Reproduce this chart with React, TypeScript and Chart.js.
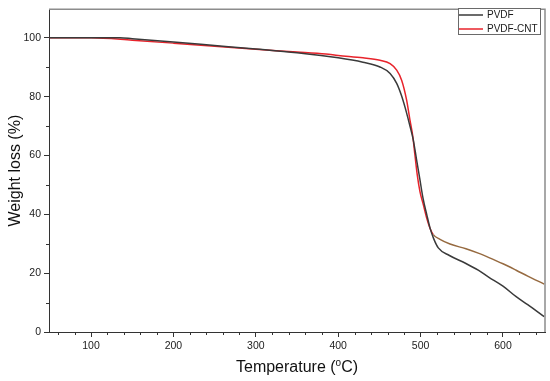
import React, { useEffect, useRef } from "react";
import { Chart, registerables } from "chart.js";
Chart.register(...registerables);

// ---- data ----
const seriesNames = ["PVDF", "PVDF-CNT"];
const pvdfTemp = [50, 100, 135, 150, 200, 250, 300, 350, 400, 430, 450.7, 463, 471, 477, 483, 487, 491, 495, 499, 503, 507.5, 511.5, 515.5, 521.5, 535, 555, 570, 583, 600, 616, 630, 650];
const pvdfWeight = [100, 100, 100, 99.7, 98.6, 97.4, 96.2, 94.9, 93.2, 91.7, 90.1, 87.9, 84.5, 80.2, 74.5, 70.1, 65.5, 58.8, 52.1, 45.4, 39.9, 35.3, 32, 28.6, 26, 23.3, 21, 18.6, 15.6, 12, 9.3, 5.2];
const cntTemp = [50, 100, 150, 200, 250, 300, 350, 385, 400, 430, 450.7, 463, 471, 477, 483, 487, 490.4, 493.2, 496, 499.3, 503.3, 507.4, 511.4, 515.4, 523.6, 535.7, 555, 570, 583, 600, 616, 630, 650];
const cntWeight = [100, 100, 99.2, 98.2, 97.1, 96.1, 95.2, 94.5, 94.0, 93.2, 92.35, 91.2, 89, 85.6, 78.9, 72.2, 66.8, 60, 53.3, 47.6, 43.3, 38.7, 35.3, 33.1, 31.5, 29.9, 28.3, 26.8, 25.3, 23.2, 21, 19, 16.3];
const xMajorTicks = [100, 200, 300, 400, 500, 600];
const yMajorTicks = [0, 20, 40, 60, 80, 100];
const xMinorTicks = [60, 80, 120, 140, 160, 180, 220, 240, 260, 280, 320, 340, 360, 380, 420, 440, 460, 480, 520, 540, 560, 580, 620, 640];
const yMinorTicks = [10, 30, 50, 70, 90];
const xRange = [49, 651];
const yRange = [0, 109.7];
const xTitleMain = "Temperature (";
const xTitleSup = "o";
const xTitleEnd = "C)";
const yTitle = "Weight loss (%)";

const FONT = "'Liberation Sans', Arial, Helvetica, sans-serif";
const BLACK_LINE = "#3a3a3a";
const RED_LINE = "#e8232b";
const BROWN_LINE = "#966a40";

const decor = {
  id: "decor",
  afterDraw(chart: any) {
    const { ctx, chartArea: ca, scales } = chart;
    const xs = scales.x;
    const ys = scales.y;
    ctx.save();
    // minor ticks
    ctx.strokeStyle = "#333";
    ctx.lineWidth = 1;
    ctx.beginPath();
    for (const v of xMinorTicks) {
      const px = Math.round(xs.getPixelForValue(v)) + 0.5;
      ctx.moveTo(px, ca.bottom);
      ctx.lineTo(px, ca.bottom + 3);
    }
    for (const v of yMinorTicks) {
      const py = Math.round(ys.getPixelForValue(v)) + 0.5;
      ctx.moveTo(ca.left, py);
      ctx.lineTo(ca.left - 3, py);
    }
    ctx.stroke();
    // top / right frame
    ctx.strokeStyle = "#8c8c8c";
    ctx.lineWidth = 1.5;
    ctx.beginPath();
    ctx.moveTo(ca.left, ca.top);
    ctx.lineTo(ca.right, ca.top);
    ctx.lineTo(ca.right, ca.bottom);
    ctx.stroke();

    // legend
    const lx = 458, ly = 8, lw = 82, lh = 26;
    ctx.fillStyle = "#fff";
    ctx.fillRect(lx, ly, lw, lh);
    ctx.strokeStyle = "#6a6a6a";
    ctx.lineWidth = 1;
    ctx.strokeRect(lx + 0.5, ly + 0.5, lw, lh);
    const colors = [BLACK_LINE, RED_LINE];
    ctx.font = `10px ${FONT}`;
    ctx.textBaseline = "middle";
    ctx.textAlign = "left";
    seriesNames.forEach((name, i) => {
      const yy = ly + 7 + i * 14;
      ctx.strokeStyle = colors[i];
      ctx.lineWidth = 1.5;
      ctx.beginPath();
      ctx.moveTo(lx + 1, yy);
      ctx.lineTo(lx + 25, yy);
      ctx.stroke();
      ctx.fillStyle = "#1a1a1a";
      ctx.fillText(name, lx + 29, yy + 0.5);
    });

    // x title with superscript
    ctx.fillStyle = "#111";
    ctx.textBaseline = "alphabetic";
    const big = `16px ${FONT}`;
    const small = `10px ${FONT}`;
    ctx.font = big;
    const w1 = ctx.measureText(xTitleMain).width;
    const w3 = ctx.measureText(xTitleEnd).width;
    ctx.font = small;
    const w2 = ctx.measureText(xTitleSup).width;
    const total = w1 + w2 + w3;
    const cx = (ca.left + ca.right) / 2;
    let sx = cx - total / 2;
    const base = 371.5;
    ctx.font = big;
    ctx.fillText(xTitleMain, sx, base);
    sx += w1;
    ctx.font = small;
    ctx.fillText(xTitleSup, sx, base - 6);
    sx += w2;
    ctx.font = big;
    ctx.fillText(xTitleEnd, sx, base);

    // y title
    ctx.save();
    ctx.translate(16, (ca.top + ca.bottom) / 2);
    ctx.rotate(-Math.PI / 2);
    ctx.textAlign = "center";
    ctx.textBaseline = "middle";
    ctx.font = big;
    ctx.fillText(yTitle, 0, 0);
    ctx.restore();

    ctx.restore();
  },
};

export default function App() {
  const ref = useRef<HTMLCanvasElement | null>(null);
  useEffect(() => {
    if (!ref.current) return;
    const chart = new Chart(ref.current, {
      type: "line",
      data: {
        datasets: [
          {
            label: seriesNames[0],
            data: pvdfTemp.map((t, i) => ({ x: t, y: pvdfWeight[i] })),
            borderColor: BLACK_LINE,
            borderWidth: 1.5,
            pointRadius: 0,
            cubicInterpolationMode: "monotone",
          },
          {
            label: seriesNames[1],
            data: cntTemp.map((t, i) => ({ x: t, y: cntWeight[i] })),
            borderColor: RED_LINE,
            borderWidth: 1.5,
            pointRadius: 0,
            cubicInterpolationMode: "monotone",
            segment: {
              borderColor: (c: any) => (c.p0.parsed.x >= 512 ? BROWN_LINE : RED_LINE),
            },
          },
        ],
      },
      options: {
        responsive: false,
        animation: false,
        layout: { padding: { top: 5, right: 5, left: 0, bottom: 0 } },
        plugins: { legend: { display: false }, tooltip: { enabled: false } },
        scales: {
          x: {
            type: "linear",
            min: xRange[0],
            max: xRange[1],
            afterBuildTicks: (s: any) => {
              s.ticks = xMajorTicks.map((v) => ({ value: v }));
            },
            afterFit: (s: any) => {
              s.height = 49;
            },
            grid: { display: true, drawOnChartArea: false, drawTicks: true, tickLength: 5, color: "#333", tickColor: "#333" },
            border: { display: true, color: "#333", width: 1 },
            ticks: { font: { family: FONT, size: 10.5 }, color: "#222", padding: 3, maxRotation: 0 },
          },
          y: {
            type: "linear",
            min: yRange[0],
            max: yRange[1],
            afterBuildTicks: (s: any) => {
              s.ticks = yMajorTicks.map((v) => ({ value: v }));
            },
            afterFit: (s: any) => {
              s.width = 49;
            },
            grid: { display: true, drawOnChartArea: false, drawTicks: true, tickLength: 5, color: "#333", tickColor: "#333" },
            border: { display: true, color: "#333", width: 1 },
            ticks: { font: { family: FONT, size: 10.5 }, color: "#222", padding: 3 },
          },
        },
      },
      plugins: [decor],
    } as any);
    return () => chart.destroy();
  }, []);
  return (
    <div style={{ position: "fixed", left: 0, top: 0, width: 550, height: 381, background: "#fff" }}>
      <canvas ref={ref} width={550} height={381} style={{ display: "block", width: 550, height: 381 }} />
    </div>
  );
}
